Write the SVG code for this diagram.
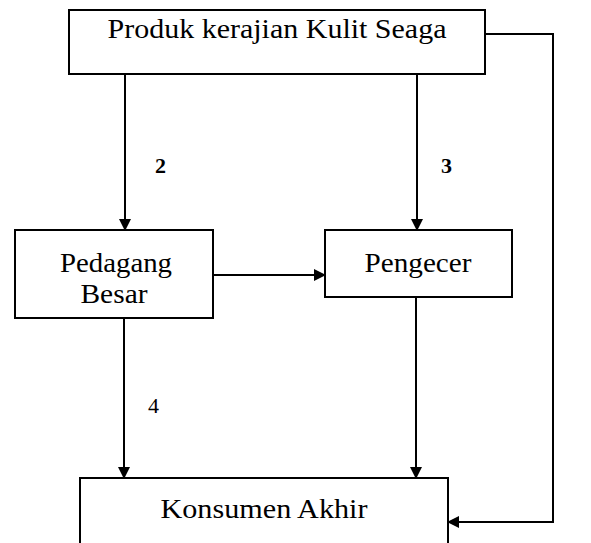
<svg xmlns="http://www.w3.org/2000/svg" width="591" height="543" viewBox="0 0 591 543">
<style>
.box{fill:#fff;stroke:#000;stroke-width:2}
.t{font-family:"Liberation Serif","Times New Roman",serif;font-size:27px;fill:#000;text-anchor:middle}
.n{font-family:"Liberation Serif","Times New Roman",serif;font-size:22px;fill:#000}
.c{fill:none;stroke:#000;stroke-width:2}
</style>
<defs>
<marker id="a" markerWidth="12" markerHeight="12" refX="11" refY="6" orient="auto" markerUnits="userSpaceOnUse">
<path d="M0,0 L12,6 L0,12 Z" fill="#000"/>
</marker>
</defs>
<rect width="591" height="543" fill="#fff"/>
<g id="connectors">
<path class="c" d="M125,74 V230" marker-end="url(#a)"/>
<path class="c" d="M417,74 V230" marker-end="url(#a)"/>
<path class="c" d="M213,275 H325" marker-end="url(#a)"/>
<path class="c" d="M124,318 V478" marker-end="url(#a)"/>
<path class="c" d="M416,297 V478" marker-end="url(#a)"/>
<path class="c" d="M485,34 H553 V522 H448" marker-end="url(#a)"/>
<text class="n" x="155" y="173" font-weight="bold">2</text>
<text class="n" x="441" y="173" font-weight="bold">3</text>
<text class="n" x="148" y="413">4</text>
</g>
<g id="produk">
<rect class="box" x="69" y="10" width="416" height="64"/>
<text class="t" x="277" y="38" font-size="29" textLength="339" lengthAdjust="spacingAndGlyphs">Produk kerajian Kulit Seaga</text>
</g>
<g id="pedagang">
<rect class="box" x="15" y="230" width="198" height="88"/>
<text class="t" x="116" y="272" textLength="112" lengthAdjust="spacingAndGlyphs">Pedagang</text>
<text class="t" x="114" y="303" textLength="67" lengthAdjust="spacingAndGlyphs">Besar</text>
</g>
<g id="pengecer">
<rect class="box" x="325" y="230" width="187" height="67"/>
<text class="t" x="418" y="272" textLength="107" lengthAdjust="spacingAndGlyphs">Pengecer</text>
</g>
<g id="konsumen">
<rect class="box" x="80" y="478" width="368" height="80"/>
<text class="t" x="264" y="518" font-size="28" textLength="207" lengthAdjust="spacingAndGlyphs">Konsumen Akhir</text>
</g>
</svg>
